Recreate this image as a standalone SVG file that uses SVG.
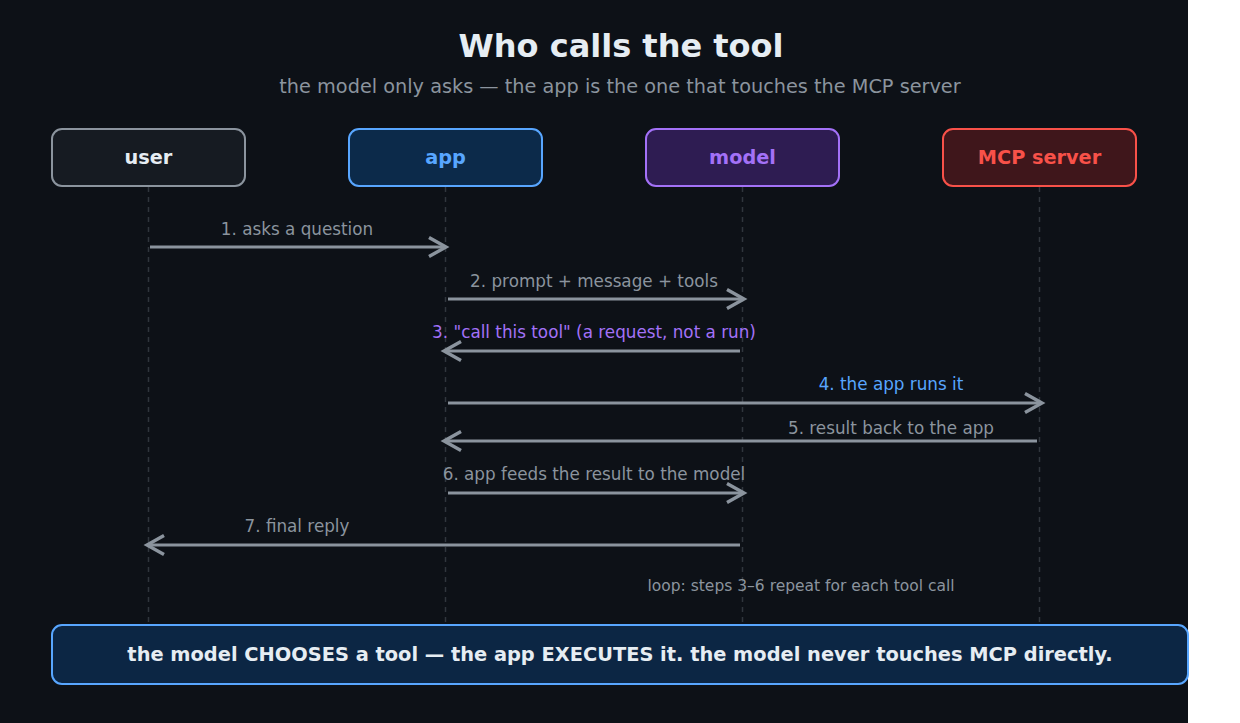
<svg xmlns="http://www.w3.org/2000/svg" width="1240" height="723" viewBox="0 0 1240 723">
<style>
text{font-family:"DejaVu Sans",sans-serif}
.title{font-size:32px;font-weight:bold;fill:#e6edf3}
.sub{font-size:19.3px;fill:#8b949e}
.nl{font-size:19.3px;font-weight:bold}
.life{stroke:#30363d;stroke-width:1.5;stroke-dasharray:5 5}
.msg{stroke:#8b949e;stroke-width:3;fill:none}
.lbl{font-size:16.8px;fill:#8b949e;text-anchor:middle}
.note{font-size:15.5px;fill:#8b949e;text-anchor:middle}
</style>
<defs>
<marker id="ah" markerUnits="userSpaceOnUse" markerWidth="26" markerHeight="26" refX="20" refY="13" orient="auto">
<path d="M3 3.5 L20 13 L3 22.5" fill="none" stroke="#8b949e" stroke-width="3.4"/>
</marker>
</defs>
<rect x="0" y="0" width="1240" height="723" fill="#ffffff"/>
<rect x="0" y="0" width="1188" height="723" fill="#0d1117"/>
<text class="title" x="621" y="57" text-anchor="middle">Who calls the tool</text>
<text class="sub" x="620" y="93" text-anchor="middle">the model only asks — the app is the one that touches the MCP server</text>
<g id="lifelines">
<line class="life" x1="148.5" y1="187" x2="148.5" y2="625"/>
<line class="life" x1="445.5" y1="187" x2="445.5" y2="625"/>
<line class="life" x1="742.5" y1="187" x2="742.5" y2="625"/>
<line class="life" x1="1039.5" y1="187" x2="1039.5" y2="625"/>
</g>
<g id="user"><rect x="52" y="129" width="193" height="57" rx="10" fill="#161b22" stroke="#8b949e" stroke-width="2"/><text class="nl" x="148.5" y="164" text-anchor="middle" fill="#e6edf3">user</text></g>
<g id="app"><rect x="349" y="129" width="193" height="57" rx="10" fill="#0c2a4a" stroke="#58a6ff" stroke-width="2"/><text class="nl" x="445.5" y="164" text-anchor="middle" fill="#58a6ff">app</text></g>
<g id="model"><rect x="646" y="129" width="193" height="57" rx="10" fill="#2e1c52" stroke="#a371f7" stroke-width="2"/><text class="nl" x="742.5" y="164" text-anchor="middle" fill="#a371f7">model</text></g>
<g id="mcp"><rect x="943" y="129" width="193" height="57" rx="10" fill="#3f161b" stroke="#f85149" stroke-width="2"/><text class="nl" x="1039.5" y="164" text-anchor="middle" fill="#f85149">MCP server</text></g>
<g id="connectors">
<line class="msg" x1="150" y1="247" x2="446" y2="247" marker-end="url(#ah)"/>
<text class="lbl" x="297" y="235">1. asks a question</text>
<line class="msg" x1="448" y1="299" x2="744" y2="299" marker-end="url(#ah)"/>
<text class="lbl" x="594" y="287">2. prompt + message + tools</text>
<line class="msg" x1="740" y1="351" x2="444" y2="351" marker-end="url(#ah)"/>
<text class="lbl" x="594" y="338" style="fill:#a371f7">3. "call this tool" (a request, not a run)</text>
<line class="msg" x1="448" y1="403" x2="1042" y2="403" marker-end="url(#ah)"/>
<text class="lbl" x="891" y="390" style="fill:#58a6ff">4. the app runs it</text>
<line class="msg" x1="1037" y1="441" x2="444" y2="441" marker-end="url(#ah)"/>
<text class="lbl" x="891" y="434">5. result back to the app</text>
<line class="msg" x1="448" y1="493" x2="744" y2="493" marker-end="url(#ah)"/>
<text class="lbl" x="594" y="480">6. app feeds the result to the model</text>
<line class="msg" x1="740" y1="545" x2="147" y2="545" marker-end="url(#ah)"/>
<text class="lbl" x="297" y="532">7. final reply</text>
</g>
<text class="note" x="801" y="591">loop: steps 3–6 repeat for each tool call</text>
<g id="footer"><rect x="52" y="625" width="1136" height="59" rx="10" fill="#0c2644" stroke="#58a6ff" stroke-width="2"/><text x="620" y="661" text-anchor="middle" font-size="19.4" font-weight="bold" fill="#e6edf3">the model CHOOSES a tool — the app EXECUTES it. the model never touches MCP directly.</text></g>
</svg>
